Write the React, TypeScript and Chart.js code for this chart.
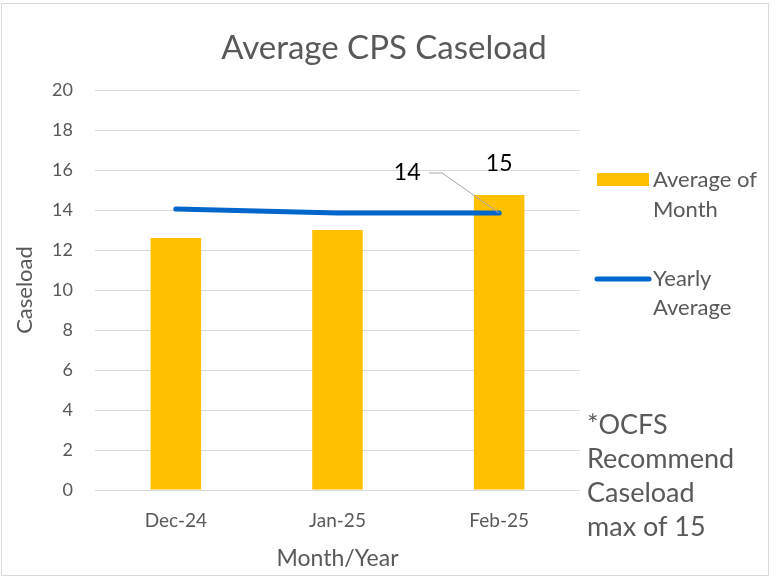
import React, { useEffect, useRef } from "react";
import { Chart, registerables } from "chart.js";

Chart.register(...registerables);

const categories = ["Dec-24", "Jan-25", "Feb-25"];
const monthAverage = [12.6, 13.0, 14.75];
const yearlyAverage = [14.05, 13.85, 13.85];
const yTicks = [0, 2, 4, 6, 8, 10, 12, 14, 16, 18, 20];
const chartTitle = "Average CPS Caseload";
const legendMonth = ["Average of", "Month"];
const legendYear = ["Yearly", "Average"];
const noteLines = ["*OCFS", "Recommend", "Caseload", "max of 15"];
const barLabel = "15";
const lineLabel = "14";

const FONT = "Lato, 'Open Sans', sans-serif";
const GREY = "#595959";
const YELLOW = "#FFC000";
const BLUE = "#0066CC";

const decorations = {
  id: "decorations",
  afterDraw(chart: any) {
    const ctx = chart.ctx;
    ctx.save();
    // frame
    ctx.strokeStyle = "#d9d9d9";
    ctx.lineWidth = 1;
    ctx.strokeRect(1.5, 3.5, 767, 572);
    // title
    ctx.fillStyle = GREY;
    ctx.font = `33px ${FONT}`;
    ctx.textAlign = "center";
    ctx.textBaseline = "middle";
    ctx.fillText(chartTitle, 384, 48);

    // legend
    ctx.textAlign = "left";
    ctx.font = `22px ${FONT}`;
    ctx.fillStyle = YELLOW;
    ctx.fillRect(597, 173, 52, 13);
    ctx.fillStyle = GREY;
    ctx.fillText(legendMonth[0], 653, 180);
    ctx.fillText(legendMonth[1], 653, 210);
    ctx.strokeStyle = BLUE;
    ctx.lineWidth = 5;
    ctx.lineCap = "round";
    ctx.beginPath();
    ctx.moveTo(597, 279);
    ctx.lineTo(649, 279);
    ctx.stroke();
    ctx.fillText(legendYear[0], 653, 279);
    ctx.fillText(legendYear[1], 653, 308);

    // note
    ctx.font = `27px ${FONT}`;
    noteLines.forEach((t, i) => ctx.fillText(t, 587, 425 + i * 34));

    // data labels
    const barMeta = chart.getDatasetMeta(0);
    const lineMeta = chart.getDatasetMeta(1);
    const bar = barMeta.data[2];
    const pt = lineMeta.data[2];
    ctx.fillStyle = "#000";
    ctx.font = `23px ${FONT}`;
    ctx.textAlign = "center";
    ctx.fillText(barLabel, bar.x, bar.y - 31);
    ctx.fillText(lineLabel, pt.x - 92, pt.y - 40);
    // leader line
    ctx.strokeStyle = "#a6a6a6";
    ctx.lineWidth = 1;
    ctx.lineCap = "butt";
    ctx.beginPath();
    ctx.moveTo(pt.x - 70, pt.y - 40);
    ctx.lineTo(pt.x - 57, pt.y - 40);
    ctx.lineTo(pt.x, pt.y);
    ctx.stroke();
    ctx.restore();
  },
};

export default function App() {
  const ref = useRef<HTMLCanvasElement>(null);
  useEffect(() => {
    if (!ref.current) return;
    const chart = new Chart(ref.current, {
      type: "bar",
      data: {
        labels: categories,
        datasets: [
          {
            type: "bar",
            label: "Average of Month",
            data: monthAverage,
            backgroundColor: YELLOW,
            categoryPercentage: 1,
            barPercentage: 0.3125,
            order: 2,
          },
          {
            type: "line",
            label: "Yearly Average",
            data: yearlyAverage,
            borderColor: BLUE,
            borderWidth: 5,
            pointRadius: 0,
            borderCapStyle: "round",
            tension: 0,
            order: 1,
          } as any,
        ],
      },
      options: {
        animation: false,
        responsive: false,
        devicePixelRatio: 1,
        layout: { padding: { top: 90, right: 200, left: 0, bottom: 0 } },
        plugins: { legend: { display: false }, title: { display: false }, tooltip: { enabled: false } },
        scales: {
          x: {
            grid: { display: false, drawTicks: false },
            border: { display: false },
            ticks: { color: GREY, font: { family: FONT, size: 19 }, padding: 19 },
            title: { display: true, text: "Month/Year", color: GREY, font: { family: FONT, size: 23 }, padding: { top: 6, bottom: 6 } },
            afterFit(scale: any) { scale.height = 88; },
          },
          y: {
            min: 0,
            max: 20,
            afterBuildTicks(scale: any) { scale.ticks = yTicks.map((v) => ({ value: v })); },
            grid: { color: "#d9d9d9", drawTicks: false },
            border: { display: false },
            ticks: { color: GREY, font: { family: FONT, size: 18 }, padding: 22 },
            title: { display: true, text: "Caseload", color: GREY, font: { family: FONT, size: 22 }, padding: { top: 12, bottom: 0 } },
            afterFit(scale: any) { scale.width = 95; },
          },
        },
      },
      plugins: [decorations],
    });
    return () => chart.destroy();
  }, []);
  return (
    <div style={{ position: "fixed", left: 0, top: 0, width: 780, height: 578, background: "#fff" }}>
      <canvas ref={ref} width={780} height={578} style={{ width: 780, height: 578 }} />
    </div>
  );
}
